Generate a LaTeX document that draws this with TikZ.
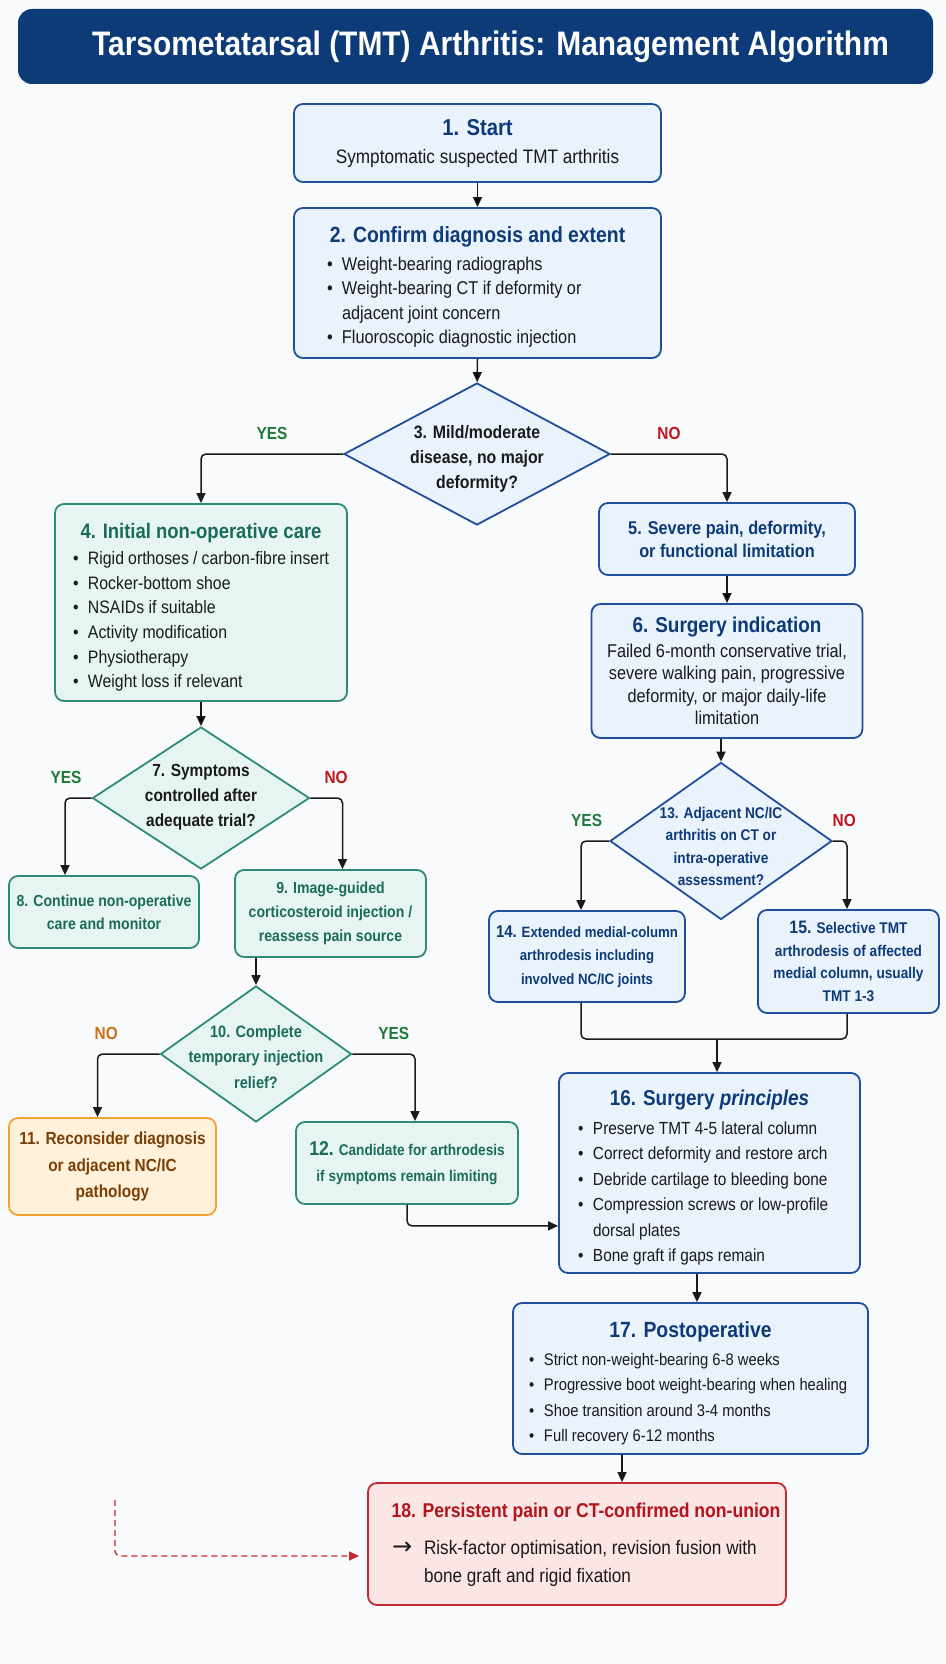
\documentclass[tikz,border=0pt]{standalone}
\usepackage{fontspec}
\setmainfont[FakeStretch=0.88]{Liberation Sans}
\newfontfamily\arrowfont{DejaVu Sans}
\usetikzlibrary{shapes.geometric, arrows.meta, positioning, calc}
\hyphenpenalty=10000
\exhyphenpenalty=10000

\definecolor{navy}{HTML}{0D3B78}
\definecolor{blueline}{HTML}{1F4E9C}
\definecolor{bluefill}{HTML}{EAF2FC}
\definecolor{tealline}{HTML}{2E8B7A}
\definecolor{tealfill}{HTML}{E6F5F2}
\definecolor{tealtext}{HTML}{1B6B5C}
\definecolor{orangeline}{HTML}{F0A235}
\definecolor{orangefill}{HTML}{FFF1DA}
\definecolor{browntext}{HTML}{7A3F05}
\definecolor{redline}{HTML}{C62A2F}
\definecolor{redfill}{HTML}{FCE5E5}
\definecolor{redtext}{HTML}{B3141C}
\definecolor{yesgreen}{HTML}{1F7A3A}
\definecolor{nored}{HTML}{C0141B}
\definecolor{noorange}{HTML}{CF6E17}
\definecolor{ink}{HTML}{1A1A1A}
\definecolor{paper}{HTML}{F9FAFC}

\newcommand{\fs}[2]{\fontsize{#1}{#2}\selectfont}
\newcommand{\ttl}[3][21.5]{\par\noindent\makebox[\hsize][c]{\color{#2}\fs{#1}{#1}\bfseries #3}\par\vspace{5pt}}
\newcommand{\itm}[1]{\par\hangindent=15pt\hangafter=1\noindent\makebox[15pt][l]{\textbullet}#1}
\newcommand{\nxt}[1]{\par\hangindent=32pt\hangafter=1\noindent\makebox[32pt][l]{\arrowfont\fs{24}{24}→}#1\par}
\newcommand{\dlines}[2][-5pt]{\makebox[0pt]{\smash{\raisebox{#1}{\begin{tabular}{@{}c@{}}#2\end{tabular}}}}}

\tikzset{
  base/.style={draw, rounded corners=9pt, line width=1.8pt, inner sep=0pt, text=ink},
  bluebox/.style={base, draw=blueline, fill=bluefill},
  tealbox/.style={base, draw=tealline, fill=tealfill},
  orangebox/.style={base, draw=orangeline, fill=orangefill},
  redbox/.style={base, draw=redline, fill=redfill},
  decision/.style={diamond, draw, line width=1.8pt, inner sep=0pt},
  line/.style={draw=ink, line width=1.5pt, rounded corners=5pt},
  yes/.style={font=\fs{17.5}{20}\bfseries, text=yesgreen, inner sep=2pt, above=12pt},
  no/.style={font=\fs{17.5}{20}\bfseries, text=nored, inner sep=2pt, above=12pt},
}

\begin{document}
\begin{tikzpicture}[x=1pt, y=-1pt, >={Triangle[length=10pt, width=9pt]}]
    \fill[paper] (0,0) rectangle (945,1664);

    \node[fill=navy, rounded corners=14pt, minimum width=915pt, minimum height=75pt,
          text=white, font=\fs{34}{40}\bfseries] (top) at (475.5,46.5)
          {\hspace*{30pt}Tarsometatarsal (TMT) Arthritis: Management Algorithm};

    % main column
    \node[bluebox, minimum width=367pt, minimum height=78pt, text width=340pt, align=flush center,
          font=\fs{19.5}{28}] (1) at (477.5,143)
          {{\color{navy}\fs{23}{28}\bfseries 1. Start}\\Symptomatic suspected TMT arthritis};
    \node[bluebox, minimum width=367pt, minimum height=150pt, text width=301pt, align=flush left,
          font=\fs{18.5}{24.5}] (2) at (477.5,283)
          {\ttl[22]{navy}{2. Confirm diagnosis and extent}\vspace{-2pt}%
           \itm{Weight-bearing radiographs}%
           \itm{Weight-bearing CT if deformity or\newline adjacent joint concern}%
           \itm{Fluoroscopic diagnostic injection}};
    \node[decision, draw=blueline, fill=bluefill, minimum width=266pt, minimum height=142pt,
          font=\fs{18}{25}\bfseries, text=ink] (3) at (477,454)
          {\dlines[-9pt]{3. Mild/moderate\\disease, no major\\deformity?}};

    % non-operative side
    \node[tealbox, minimum width=292pt, minimum height=197pt, text width=256pt, align=flush left,
          font=\fs{18}{24.6}] (4) at (201,602.5)
          {\ttl[21]{tealtext}{4. Initial non-operative care}\vspace{-3pt}%
           \itm{Rigid orthoses / carbon-fibre insert}%
           \itm{Rocker-bottom shoe}%
           \itm{NSAIDs if suitable}%
           \itm{Activity modification}%
           \itm{Physiotherapy}%
           \itm{Weight loss if relevant}};
    \node[decision, draw=tealline, fill=tealfill, minimum width=217pt, minimum height=142pt,
          font=\fs{17.5}{25}\bfseries, text=ink] (7) at (201,798)
          {\dlines[-2.5pt]{7. Symptoms\\controlled after\\adequate trial?}};
    \node[tealbox, minimum width=190pt, minimum height=72pt, text width=184pt, align=flush center,
          font=\fs{16}{23}\bfseries, text=tealtext] (8) at (104,912)
          {8. Continue non-operative\\care and monitor};
    \node[tealbox, minimum width=191pt, minimum height=87pt, text width=184pt, align=flush center,
          font=\fs{16}{24}\bfseries, text=tealtext] (9) at (330.5,913.5)
          {9. Image-guided\\corticosteroid injection /\\reassess pain source};
    \node[decision, draw=tealline, fill=tealfill, minimum width=191pt, minimum height=136pt,
          font=\fs{16.5}{25.5}\bfseries, text=tealtext] (10) at (256,1054)
          {\dlines[-8pt]{10. Complete\\temporary injection\\relief?}};
    \node[orangebox, minimum width=207pt, minimum height=97pt, text width=200pt, align=flush center,
          font=\fs{17.5}{26}\bfseries, text=browntext] (11) at (112.5,1166.5)
          {11. Reconsider diagnosis\\or adjacent NC/IC\\pathology};
    \node[tealbox, minimum width=222pt, minimum height=82pt, text width=214pt, align=flush center,
          font=\fs{15.5}{26}\bfseries, text=tealtext] (12) at (407,1163)
          {{\fs{20}{26}12.} Candidate for arthrodesis\\if symptoms remain limiting};

    % operative side
    \node[bluebox, minimum width=256pt, minimum height=72pt, text width=240pt, align=flush center,
          font=\fs{18.5}{23}\bfseries, text=navy] (5) at (727,539)
          {5. Severe pain, deformity,\\or functional limitation};
    \node[bluebox, minimum width=271pt, minimum height=134pt, text width=260pt, align=flush center,
          font=\fs{18.5}{22.5}] (6) at (727,671)
          {{\color{navy}\fs{21.5}{25}\bfseries 6. Surgery indication}\\[2pt]Failed 6-month conservative trial,\\severe walking pain, progressive\\deformity, or major daily-life\\limitation};
    \node[decision, draw=blueline, fill=bluefill, minimum width=222pt, minimum height=157pt,
          font=\fs{15.5}{22.5}\bfseries, text=navy] (13) at (721,841)
          {\dlines[-10pt]{13. Adjacent NC/IC\\arthritis on CT or\\intra-operative\\assessment?}};
    \node[bluebox, minimum width=196pt, minimum height=91pt, text width=190pt, align=flush center,
          font=\fs{15}{23.5}\bfseries, text=navy] (14) at (587,956.5)
          {{\fs{17}{23.5}14.} Extended medial-column\\arthrodesis including\\involved NC/IC joints};
    \node[bluebox, minimum width=181pt, minimum height=103pt, text width=176pt, align=flush center,
          font=\fs{15.5}{22.7}\bfseries, text=navy] (15) at (848.5,961.5)
          {{\fs{18}{22.7}15.} Selective TMT\\arthrodesis of affected\\medial column, usually\\TMT 1-3};
    \node[bluebox, minimum width=301pt, minimum height=200pt, text width=263pt, align=flush left,
          font=\fs{17.5}{25.5}] (16) at (709.5,1173)
          {\ttl[21.5]{navy}{16. Surgery \textit{principles}}\vspace{-2pt}%
           \itm{Preserve TMT 4-5 lateral column}%
           \itm{Correct deformity and restore arch}%
           \itm{Debride cartilage to bleeding bone}%
           \itm{Compression screws or low-profile\newline dorsal plates}%
           \itm{Bone graft if gaps remain}};
    \node[bluebox, minimum width=355pt, minimum height=151pt, text width=323pt, align=flush left,
          font=\fs{16.8}{25.5}] (17) at (690.5,1378.5)
          {\ttl[22]{navy}{17. Postoperative}\vspace{-3pt}%
           \itm{Strict non-weight-bearing 6-8 weeks}%
           \itm{Progressive boot weight-bearing when healing}%
           \itm{Shoe transition around 3-4 months}%
           \itm{Full recovery 6-12 months}};
    \node[redbox, minimum width=418pt, minimum height=122pt, text width=370pt, align=flush left,
          font=\fs{19.5}{28}] (18) at (577,1544)
          {\ttl[20]{redtext}{\hspace*{18pt}18. Persistent pain or CT-confirmed non-union}\vspace{4pt}%
           \nxt{Risk-factor optimisation, revision fusion with\newline bone graft and rigid fixation}\kern12pt};

    % connector points
    \coordinate (join) at (717,1039);
    \coordinate (c16) at (697,0);
    \coordinate (c17) at (622,0);
    \coordinate (back) at (115,1500);

    \path[line, ->]
    (1) edge (2)
    (2) edge (3)
    (4) edge (7)
    (5) edge (6)
    ;
    \draw[line, ->] (3.west) -| node[yes, pos=0.25] {YES} (4.north);
    \draw[line, ->] (3.east) -| node[no, pos=0.25] {NO} (5.north);
    \draw[line, ->] (13.north |- 6.south) -- (13.north);
    \draw[line, ->] (7.west) -| node[yes, pos=0.48] {YES} ([xshift=-39pt]8.north);
    \draw[line, ->] (7.east) -| node[no, pos=0.4] {NO} ([xshift=12pt]9.north);
    \draw[line, ->] (10.north |- 9.south) -- (10.north);
    \draw[line, ->] (10.west) -| node[no, text=noorange, pos=0.43] {NO} ([xshift=-15pt]11.north);
    \draw[line, ->] (10.east) -| node[yes, pos=0.33] {YES} ([xshift=8pt]12.north);
    \draw[line, ->] (13.west) -| node[yes, pos=0.4] {YES} ([xshift=-6pt]14.north);
    \draw[line, ->] (13.east) -| node[no, pos=0.4] {NO} ([xshift=-1.5pt]15.north);
    \draw[line] ([xshift=-6pt]14.south) |- (join) -| ([xshift=-1.5pt]15.south);
    \draw[line, ->] (join) -- (join |- 16.north);
    \draw[line, ->] (12.south) |- ([yshift=48pt]16.south west);
    \draw[line, ->] (c16 |- 16.south) -- (c16 |- 17.north);
    \draw[line, ->] (c17 |- 17.south) -- (c17 |- 18.north);
    \draw[line, ->, draw=redline, dash pattern=on 6pt off 4pt, line width=1.3pt,
          shorten >=8pt] (back) |- ([yshift=-12pt]18.west);
\end{tikzpicture}
\end{document}
